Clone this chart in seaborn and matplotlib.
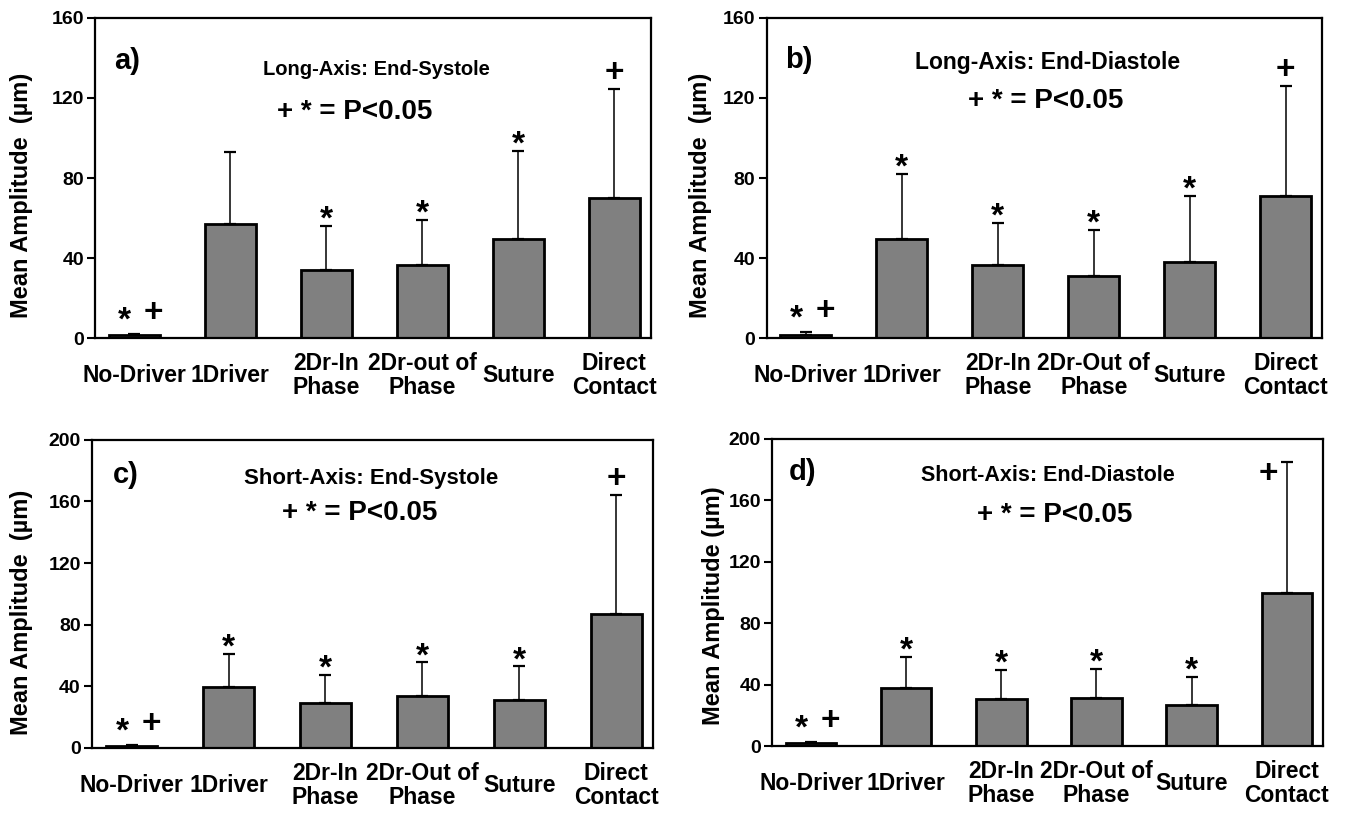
import matplotlib
matplotlib.use("Agg")
import matplotlib.pyplot as plt
from matplotlib.transforms import offset_copy
import seaborn as sns
import pandas as pd

# categories (Excel-style two line labels)
cats_a = ["No-Driver", "1Driver", "2Dr-In\nPhase", "2Dr-out of\nPhase", "Suture", "Direct\nContact"]
cats = ["No-Driver", "1Driver", "2Dr-In\nPhase", "2Dr-Out of\nPhase", "Suture", "Direct\nContact"]

# mean amplitude (um) and upper error (SD)
mean_a = [1.5, 57, 34, 36.5, 49.5, 70]
sd_a = [0.5, 36, 22, 22.5, 44, 54.5]
mean_b = [1.5, 49.5, 36.5, 31, 38, 71]
sd_b = [1.5, 32.5, 21, 23, 33, 55]
mean_c = [1.5, 39.5, 29.5, 33.5, 31, 87]
sd_c = [0.5, 21.5, 18, 22, 22, 77.5]
mean_d = [2, 37.5, 30.5, 31, 27, 99.5]
sd_d = [0.5, 20.5, 19, 19, 18, 85.5]

# significance marks
marks_a = ["*+", "", "*", "*", "*", "+"]
marks_b = ["*+", "*", "*", "*", "*", "+"]
marks_c = ["*+", "*", "*", "*", "*", "+"]
marks_d = ["*+", "*", "*", "*", "*", "+"]

titles = ["Long-Axis: End-Systole", "Long-Axis: End-Diastole",
          "Short-Axis: End-Systole", "Short-Axis: End-Diastole"]
letters = ["a)", "b)", "c)", "d)"]
ylabels = ["Mean Amplitude  (µm)", "Mean Amplitude  (µm)",
           "Mean Amplitude  (µm)", "Mean Amplitude (µm)"]

sns.set_style("white")
plt.rcParams["font.family"] = ["Liberation Sans", "DejaVu Sans"]
plt.rcParams["font.weight"] = "bold"
plt.rcParams["text.color"] = "black"
plt.rcParams["axes.labelcolor"] = "black"
plt.rcParams["xtick.color"] = "black"
plt.rcParams["ytick.color"] = "black"

fig = plt.figure(figsize=(13.52, 8.13), dpi=100)

# axes boxes [left, bottom, width, height]
boxes = [
    [0.0703, 0.584, 0.411, 0.394],
    [0.567, 0.584, 0.411, 0.394],
    [0.068, 0.080, 0.415, 0.379],
    [0.571, 0.0824, 0.4075, 0.378],
]
panels = [
    (cats_a, mean_a, sd_a, marks_a, 160),
    (cats, mean_b, sd_b, marks_b, 160),
    (cats, mean_c, sd_c, marks_c, 200),
    (cats, mean_d, sd_d, marks_d, 200),
]
# text placement (axes fraction) per panel
title_pos = [(0.507, 0.839, 14.5), (0.506, 0.860, 16.5), (0.498, 0.874, 16), (0.50, 0.880, 15.5)]
p_pos = [(0.468, 0.705), (0.502, 0.741), (0.478, 0.764), (0.513, 0.752)]
letter_pos = [(0.034, 0.865), (0.033, 0.870), (0.037, 0.885), (0.031, 0.890)]
ylab_x = [-0.112, -0.099, -0.105, -0.085]
ylab_y = [0.445, 0.445, 0.44, 0.456]

MARK_FS = 24


def mark(ax, x, y, sym, dy):
    # dy: baseline offset in points from the error bar top
    tr = offset_copy(ax.transData, fig=fig, y=dy, units="points")
    ax.text(x, y, sym, transform=tr, ha="center", va="baseline",
            fontsize=MARK_FS, fontweight="bold")


for i, (labels, means, sds, marks, ymax) in enumerate(panels):
    ax = fig.add_axes(boxes[i])
    df = pd.DataFrame({"group": labels, "amp": means})
    sns.barplot(data=df, x="group", y="amp", color="#808080", saturation=1,
                edgecolor="black", linewidth=2, width=0.53, errorbar=None, ax=ax)
    pos = list(range(len(labels)))
    ax.errorbar(pos, means, yerr=[[0] * len(sds), sds], fmt="none",
                ecolor="black", elinewidth=1.1, capsize=4.5, capthick=1.6, zorder=1)

    for x, m, s, mk in zip(pos, means, sds, marks):
        top = m + s
        if mk == "*+":
            mark(ax, x - 0.10, top, "*", 3)
            mark(ax, x + 0.20, top, "+", 8.5)
        elif mk == "*":
            mark(ax, x, top, "*", -2)
        elif mk == "+":
            if top > 0.85 * ymax:
                mark(ax, x - 0.19, top, "+", -15)
            else:
                mark(ax, x, top, "+", 5)

    ax.set_xlim(-0.41, 5.38)
    ax.set_ylim(0, ymax)
    ax.set_yticks(range(0, ymax + 1, 40))
    ax.set_xlabel("")
    ax.set_ylabel(ylabels[i], fontsize=17, fontweight="bold")
    ax.yaxis.set_label_coords(ylab_x[i], ylab_y[i])
    ax.tick_params(axis="y", direction="out", length=6, width=1.5, labelsize=14, pad=2, left=True)
    ax.tick_params(axis="x", length=0, labelsize=16.5, pad=27)
    for lab in ax.get_xticklabels():
        lab.set_va("center")
        lab.set_fontweight("bold")
        lab.set_linespacing(1.05)
    for lab in ax.get_yticklabels():
        lab.set_fontweight("bold")
    for sp in ax.spines.values():
        sp.set_visible(True)
        sp.set_linewidth(1.6)
        sp.set_color("black")

    tx, ty, tfs = title_pos[i]
    ax.text(tx, ty, titles[i], transform=ax.transAxes, ha="center", va="center",
            fontsize=tfs, fontweight="bold")
    ax.text(p_pos[i][0], p_pos[i][1], "+ * = P<0.05", transform=ax.transAxes,
            ha="center", va="center", fontsize=20, fontweight="bold")
    ax.text(letter_pos[i][0], letter_pos[i][1], letters[i], transform=ax.transAxes,
            ha="left", va="center", fontsize=21, fontweight="bold")

fig.savefig("out.png", dpi=100)
